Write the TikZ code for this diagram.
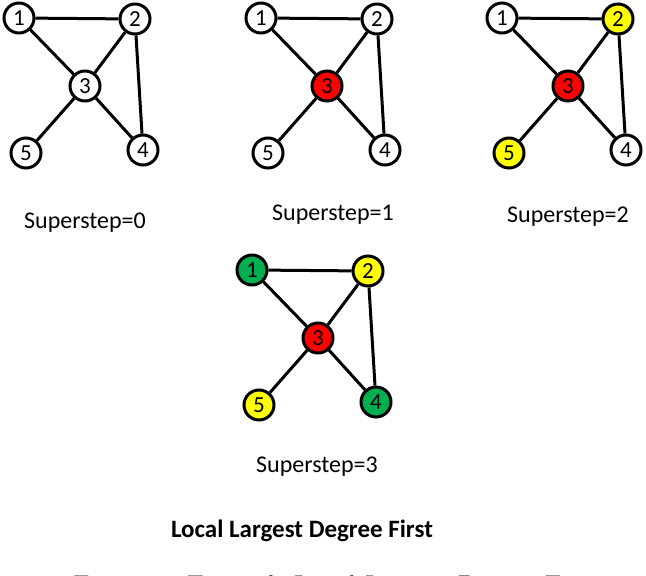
\documentclass[tikz,border=0pt]{standalone}
\usepackage{fontspec}
\setsansfont{Carlito}
\usepackage{tikz}
\usetikzlibrary{positioning}
\definecolor{vred}{RGB}{255,0,0}
\definecolor{vyellow}{RGB}{255,255,0}
\definecolor{vgreen}{RGB}{0,176,80}
\tikzset{
    vtx/.style={circle, draw, line width=3pt, minimum size=30pt, inner sep=0pt,
        font=\sffamily\fontsize{23}{23}\selectfont},
    link/.style={line width=3pt},
    steplabel/.style={anchor=base, font=\sffamily\fontsize{24}{24}\selectfont}
}
\begin{document}
\begin{tikzpicture}[x=1pt, y=-1pt]
    \clip (0,0) rectangle (646,576);

    % One graph per superstep: name, offset, fill of vertices 1..5, label position
    \foreach \g/\s/\ox/\oy/\ca/\cb/\cc/\cd/\ce/\lx/\ly in {
        a/0/0/0/white/white/white/white/white/85/228,
        b/1/242/0/white/white/vred/white/white/91/220,
        c/2/483/0/white/vyellow/vred/white/vyellow/85/222,
        d/3/233/252/vgreen/vyellow/vred/vgreen/vyellow/84/220} {
        \begin{scope}[shift={(\ox,\oy)}]
            % Vertices
            \node[vtx, fill=\ca] (\g1) at (19,18) {1};
            \node[vtx, fill=\cb] (\g2) at (135,19) {2};
            \node[vtx, fill=\cc] (\g3) at (85,86) {3};
            \node[vtx, fill=\cd] (\g4) at (143,150) {4};
            \node[vtx, fill=\ce] (\g5) at (26,153) {5};

            % Edges
            \draw[link] (\g1) -- (\g2);
            \draw[link] (\g1) -- (\g3);
            \draw[link] (\g2) -- (\g3);
            \draw[link] (\g2) -- (\g4);
            \draw[link] (\g3) -- (\g4);
            \draw[link] (\g3) -- (\g5);

            \node[steplabel] (\g lab) at (\lx,\ly) {Superstep=\s};
        \end{scope}
    }

    % Title and caption (cut off by the page)
    \node[anchor=base, font=\sffamily\bfseries\fontsize{25}{25}\selectfont] (title) at (302,537) {Local Largest Degree First};
    \node[anchor=base, font=\fontsize{28.5}{28.5}\selectfont] (caption) at (336,595) {Figure 4: Example:Local Largest Degree First};
\end{tikzpicture}
\end{document}
